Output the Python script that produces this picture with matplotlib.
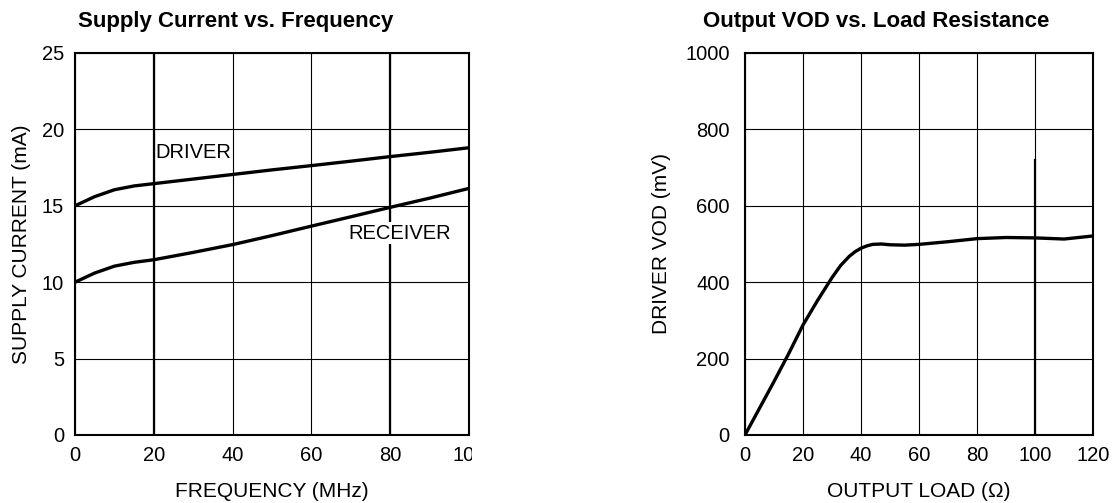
import matplotlib
matplotlib.use("Agg")
import matplotlib.pyplot as plt
from matplotlib.transforms import Bbox, TransformedBbox, offset_copy

plt.rcParams['font.family'] = ['Liberation Sans', 'DejaVu Sans']

# Supply current vs frequency
freq = [0, 5, 10, 15, 20, 30, 40, 50, 60, 70, 80, 90, 100]
driver_ma = [15.0, 15.6, 16.05, 16.3, 16.45, 16.75, 17.05, 17.35, 17.63, 17.92, 18.22, 18.5, 18.8]
receiver_ma = [10.0, 10.6, 11.05, 11.3, 11.47, 11.95, 12.46, 13.05, 13.67, 14.28, 14.9, 15.5, 16.14]
freq_ticks = [0, 20, 40, 60, 80, 100]
current_ticks = [0, 5, 10, 15, 20, 25]

# Output VOD vs load
load = [0, 5, 10, 15, 20, 25, 30, 33, 36, 38, 40, 42, 44, 47, 50, 55, 60, 70, 80, 90, 100, 110, 120]
vod_mv = [0, 70, 140, 212, 288, 352, 412, 444, 468, 480, 489, 495, 499, 500, 498, 497, 499, 506, 514, 517, 516, 513, 521]
load_ticks = [0, 20, 40, 60, 80, 100, 120]
vod_ticks = [0, 200, 400, 600, 800, 1000]

FS = 14.5
W, H = 1120, 503
fig = plt.figure(figsize=(W / 100, H / 100), dpi=100)

ax1 = fig.add_axes([75 / W, 1 - 435 / H, 394 / W, 382 / H])
ax2 = fig.add_axes([745 / W, 1 - 435 / H, 348 / W, 382 / H])


def style(ax, xt, yt, ypad):
    ax.set_xticks(xt)
    ax.set_yticks(yt)
    ax.grid(True, color='black', linewidth=0.8)
    ax.set_axisbelow(True)
    for s in ax.spines.values():
        s.set_linewidth(1.5)
        s.set_color('black')
    ax.tick_params(length=0, labelsize=FS, colors='black')
    ax.tick_params(axis='x', pad=8)
    ax.tick_params(axis='y', pad=ypad)


ax1.plot(freq, driver_ma, color='black', linewidth=2.4, solid_capstyle='butt')
ax1.plot(freq, receiver_ma, color='black', linewidth=2.4, solid_capstyle='butt')
ax1.set_xlim(0, 100)
ax1.set_ylim(0, 25)
style(ax1, freq_ticks, current_ticks, 8)
# the scanned figure cuts the last tick label
ax1.set_xticklabels([str(t) for t in freq_ticks[:-1]] + [''])
last = ax1.text(freq_ticks[-1], 0, str(freq_ticks[-1]),
                transform=offset_copy(ax1.get_xaxis_transform(), fig=fig, y=-8, units='points'),
                ha='center', va='top', fontsize=FS)
last.set_clip_box(TransformedBbox(Bbox([[0, 0], [472 / W, 1]]), fig.transFigure))
last.set_clip_on(True)
for x in (20, 80):
    ax1.axvline(x, color='black', linewidth=1.6, zorder=0.5)
ax1.text(20.3, 18.5, 'DRIVER', fontsize=FS, va='center', ha='left')
ax1.text(69.3, 13.2, 'RECEIVER', fontsize=FS, va='center', ha='left',
         bbox=dict(facecolor='white', edgecolor='none', pad=1))
ax1.set_xlabel('FREQUENCY (MHz)', fontsize=15, labelpad=12)
ax1.set_ylabel('SUPPLY CURRENT (mA)', fontsize=15, labelpad=8)

ax2.plot(load, vod_mv, color='black', linewidth=2.4, solid_capstyle='butt')
ax2.set_xlim(0, 120)
ax2.set_ylim(0, 1000)
style(ax2, load_ticks, vod_ticks, 11)
ax2.axvline(100, ymin=0, ymax=0.72, color='black', linewidth=1.6, zorder=0.5)
ax2.set_xlabel('OUTPUT LOAD (Ω)', fontsize=15, labelpad=12)
ax2.set_ylabel('DRIVER VOD (mV)', fontsize=15, labelpad=10)

fig.text(78 / W, 1 - 21 / H, 'Supply Current vs. Frequency', fontsize=16, fontweight='bold',
         ha='left', va='center')
fig.text(703 / W, 1 - 21 / H, 'Output VOD vs. Load Resistance', fontsize=16, fontweight='bold',
         ha='left', va='center')

fig.savefig('out.png', dpi=100)
